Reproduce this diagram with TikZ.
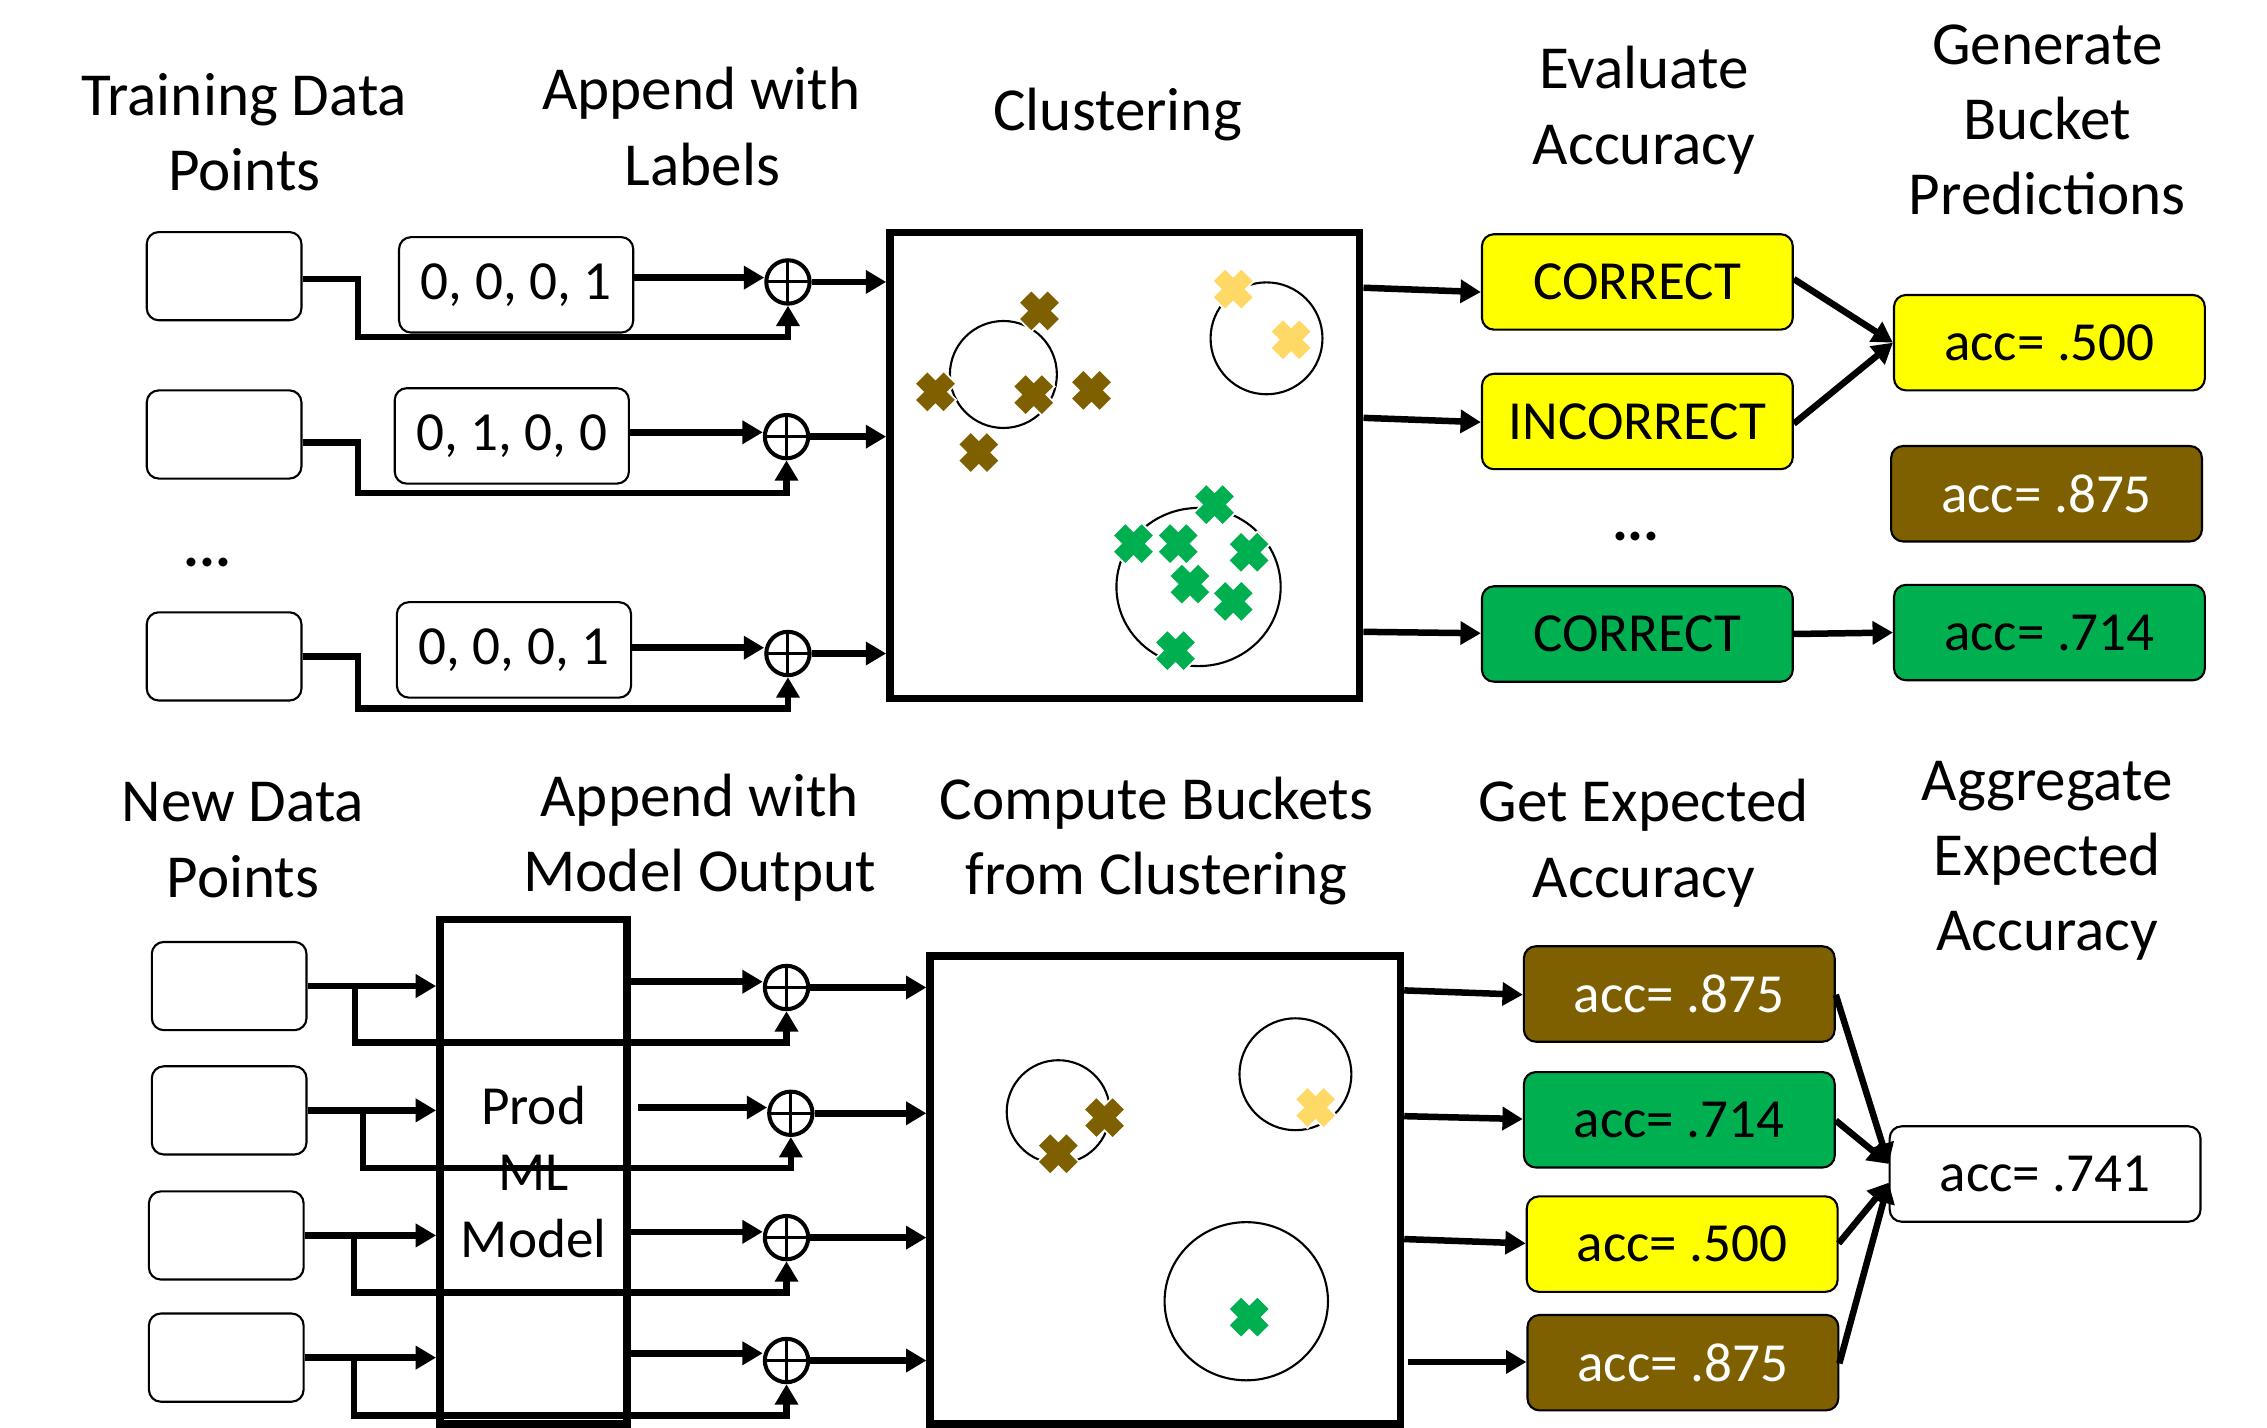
\documentclass[tikz,border=0pt]{standalone}
\usepackage{fontspec}
\setmainfont{Carlito}
\usetikzlibrary{arrows.meta}
\newdimen\un \un=0.014458cm
\definecolor{accyel}{HTML}{FFFF00}
\definecolor{accbrn}{HTML}{7F6000}
\definecolor{accgrn}{HTML}{00B050}
\definecolor{ptyel}{HTML}{FFD966}
% a cluster member: a fat X with a thin white rim
\newcommand\clusterpt[3]{%
  \draw[white,line width=13.5*\un] (#2-10.5,#3-10.5) -- (#2+10.5,#3+10.5) (#2-10.5,#3+10.5) -- (#2+10.5,#3-10.5);
  \draw[#1,line width=11*\un] (#2-9.5,#3-9.5) -- (#2+9.5,#3+9.5) (#2-9.5,#3+9.5) -- (#2+9.5,#3-9.5);}
\begin{document}
\begin{tikzpicture}[x=0.014458cm, y=-0.014458cm,
  hdr/.style={font=\fontsize{17.4}{21}\selectfont, anchor=base, inner sep=0pt},
  rbox/.style={draw=black, line width=0.6pt, rounded corners=0.12cm, inner sep=0pt,
    minimum width=215*\un, minimum height=66*\un, font=\fontsize{15.7}{19}\selectfont},
  databox/.style={rbox, fill=white, minimum width=107*\un, minimum height=61*\un},
  lblbox/.style={rbox, fill=white, minimum width=162*\un, minimum height=66*\un},
  yelbox/.style={rbox, fill=accyel},
  grnbox/.style={rbox, fill=accgrn},
  brnbox/.style={rbox, fill=accbrn, text=white},
  whtbox/.style={rbox, fill=white},
  sumnode/.style={circle, draw, fill=white, line width=1.15pt, inner sep=0pt, minimum size=30*\un,
    path picture={\draw[line width=0.85pt] (path picture bounding box.north) -- (path picture bounding box.south)
      (path picture bounding box.west) -- (path picture bounding box.east);}},
  clbox/.style={draw, line width=2.1pt, fill=white, inner sep=0pt},
  modelbox/.style={draw, line width=2.2pt, inner sep=0pt, align=center, font=\fontsize{15.7}{18.9}\selectfont},
  clcirc/.style={draw, line width=0.6pt},
  conn/.style={line width=1.85pt, -{Triangle[length=5.8pt,width=6.4pt]}},
  dotsnode/.style={inner sep=0pt, font=\fontsize{17}{19}\selectfont\bfseries}
]
\path[use as bounding box] (0,0) rectangle (1568,987);

% ---------- training stage: headings ----------
\node[hdr] (hTa) at (169,80) {Training Data};
\node[hdr] (hTb) at (169,132) {Points};
\node[hdr] (hLa) at (485,76) {Append with};
\node[hdr] (hLb) at (486,128) {Labels};
\node[hdr] (hC)  at (773,90.5) {Clustering};
\node[hdr] (hEa) at (1137,61.5) {Evaluate};
\node[hdr] (hEb) at (1137,114) {Accuracy};
\node[hdr] (hGa) at (1416,44.5) {Generate};
\node[hdr] (hGb) at (1416,96.5) {Bucket};
\node[hdr] (hGc) at (1416,148.5) {Predictions};

% ---------- training stage: nodes ----------
\node[databox] (d1) at (155,191) {};
\node[databox] (d2) at (155,300.5) {};
\node[databox] (d3) at (155,454) {};
\node[dotsnode] (dotsL) at (143.5,389) {...};
\node[lblbox] (l1) at (357,197) {0, 0, 0, 1};
\node[lblbox] (l2) at (354,301.5) {0, 1, 0, 0};
\node[lblbox] (l3) at (355.5,449.5) {0, 0, 0, 1};
\node[sumnode] (c1) at (545,195) {};
\node[sumnode] (c2) at (544,302) {};
\node[sumnode] (c3) at (545,452) {};
\node[clbox, minimum width=325*\un, minimum height=322*\un] (K1) at (778,322) {};

\node[yelbox] (e1) at (1132.5,195) {CORRECT};
\node[yelbox] (e2) at (1132.5,291.5) {INCORRECT};
\node[dotsnode] (dotsR) at (1131.5,371) {...};
\node[grnbox] (e3) at (1132.5,438.5) {CORRECT};
\node[yelbox] (p1) at (1417.5,237) {acc= .500};
\node[brnbox] (p2) at (1415.5,341.5) {acc= .875};
\node[grnbox] (p3) at (1417.5,437.5) {acc= .714};

% clusters found on the training points
\draw[clcirc] (694,259) circle[radius=37];
\draw[clcirc] (876,234) circle[radius=38.7];
\draw[clcirc] (829,406) circle[x radius=56.8, y radius=54.7];
\clusterpt{accbrn}{719}{215}
\clusterpt{accbrn}{647}{271}
\clusterpt{accbrn}{715}{273}
\clusterpt{accbrn}{755}{270}
\clusterpt{accbrn}{677}{313}
\clusterpt{ptyel}{853}{200}
\clusterpt{ptyel}{893}{235}
\clusterpt{accgrn}{840}{349}
\clusterpt{accgrn}{784}{376}
\clusterpt{accgrn}{815}{376}
\clusterpt{accgrn}{864}{382}
\clusterpt{accgrn}{823}{404}
\clusterpt{accgrn}{853}{416}
\clusterpt{accgrn}{813}{450}

% ---------- training stage: connectors ----------
\draw[conn] (d1.east |- 0,193) -- (247.6,193) |- (c1.south |- 0,233) -- (c1.south);
\draw[conn] (d2.east |- 0,306) -- (247.6,306) |- (c2.south |- 0,341) -- (c2.south);
\draw[conn] (d3.east |- 0,454) -- (247.6,454) |- (c3.south |- 0,490) -- (c3.south);
\draw[conn] (l1.east |- 0,192) -- (c1.west |- 0,192);
\draw[conn] (l2.east |- 0,299) -- (c2.west |- 0,299);
\draw[conn] (l3.east |- 0,448) -- (c3.west |- 0,448);
\draw[conn] (c1.east) -- (K1.west |- c1.east);
\draw[conn] (c2.east) -- (K1.west |- c2.east);
\draw[conn] (c3.east) -- (K1.west |- c3.east);
\draw[conn] (K1.east |- 0,199) -- (e1.west |- 0,202);
\draw[conn] (K1.east |- 0,289) -- (e2.west |- 0,292);
\draw[conn] (K1.east |- 0,437) -- (e3.west |- 0,438);
\draw[conn] (e1.east |- 0,193) -- (p1.west);
\draw[conn] (e2.east |- 0,293) -- (p1.west);
\draw[conn] (e3.east) -- (p3.west);

% ---------- inference stage: headings ----------
\node[hdr] (hNa) at (168,568.5) {New Data};
\node[hdr] (hNb) at (168,620.5) {Points};
\node[hdr] (hMa) at (484,564.5) {Append with};
\node[hdr] (hMb) at (484,616.5) {Model Output};
\node[hdr] (hBa) at (800,566.5) {Compute Buckets};
\node[hdr] (hBb) at (800,618.5) {from Clustering};
\node[hdr] (hXa) at (1137,568.5) {Get Expected};
\node[hdr] (hXb) at (1137,620.5) {Accuracy};
\node[hdr] (hAa) at (1416,553.5) {Aggregate};
\node[hdr] (hAb) at (1416,605.5) {Expected};
\node[hdr] (hAc) at (1416,657.5) {Accuracy};

% ---------- inference stage: nodes ----------
\node[databox] (n1) at (158.5,682) {};
\node[databox] (n2) at (158.5,768) {};
\node[databox] (n3) at (156.5,854.5) {};
\node[databox] (n4) at (156.5,939) {};
\node[modelbox, minimum width=129.4*\un, minimum height=349*\un] (M) at (369,810.4) {Prod\\ML\\Model};
\node[sumnode] (b1) at (544,683) {};
\node[sumnode] (b2) at (547,770) {};
\node[sumnode] (b3) at (544,856) {};
\node[sumnode] (b4) at (544,941) {};
\node[clbox, minimum width=325.4*\un, minimum height=323.7*\un] (K2) at (806,823) {};

\node[brnbox] (g1) at (1161.5,687.5) {acc= .875};
\node[grnbox] (g2) at (1161.5,774.5) {acc= .714};
\node[yelbox] (g3) at (1163.5,860.5) {acc= .500};
\node[brnbox] (g4) at (1164,942.5) {acc= .875};
\node[whtbox] (fin) at (1414.5,812) {acc= .741};

% buckets assigned to the new points
\draw[clcirc] (732,769) circle[radius=35.7];
\draw[clcirc] (896,743) circle[radius=38.7];
\draw[clcirc] (862,900) circle[x radius=56.5, y radius=54.7];
\clusterpt{accbrn}{764}{773}
\clusterpt{accbrn}{732}{798}
\clusterpt{ptyel}{910}{766}
\clusterpt{accgrn}{864}{911}

% ---------- inference stage: connectors ----------
\draw[conn] (n1.east) -- (M.west |- n1.east);
\draw[conn] (n2.east) -- (M.west |- n2.east);
\draw[conn] (n3.east) -- (M.west |- n3.east);
\draw[conn] (n4.east) -- (M.west |- n4.east);
\draw[conn] (n1.east -| 245.6,0) |- (b1.south |- 0,721) -- (b1.south);
\draw[conn] (n2.east -| 251,0) |- (b2.south |- 0,808) -- (b2.south);
\draw[conn] (n3.east -| 245,0) |- (b3.south |- 0,894) -- (b3.south);
\draw[conn] (n4.east -| 245,0) |- (b4.south |- 0,979) -- (b4.south);
\draw[conn] (M.east |- 0,679) -- (b1.west |- 0,679);
\draw[conn] (441,766) -- (b2.west |- 0,766);
\draw[conn] (M.east |- 0,852) -- (b3.west |- 0,852);
\draw[conn] (M.east |- 0,936) -- (b4.west |- 0,936);
\draw[conn] (b1.east) -- (K2.west |- b1.east);
\draw[conn] (b2.east) -- (K2.west |- b2.east);
\draw[conn] (b3.east) -- (K2.west |- b3.east);
\draw[conn] (b4.east) -- (K2.west |- b4.east);
\draw[conn] (K2.east |- 0,685) -- (g1.west |- 0,688);
\draw[conn] (K2.east |- 0,772) -- (g2.west |- 0,774);
\draw[conn] (K2.east |- 0,857) -- (g3.west |- 0,860);
\draw[conn] (974,942) -- (g4.west |- 0,942);
\draw[conn] (g1.east |- 0,688) -- (fin.west |- 0,805);
\draw[conn] (g2.east |- 0,775) -- (fin.west |- 0,805);
\draw[conn] (g3.east |- 0,860) -- (fin.west |- 0,818);
\draw[conn] (g4.east |- 0,943) -- (fin.west |- 0,818);
\end{tikzpicture}
\end{document}
